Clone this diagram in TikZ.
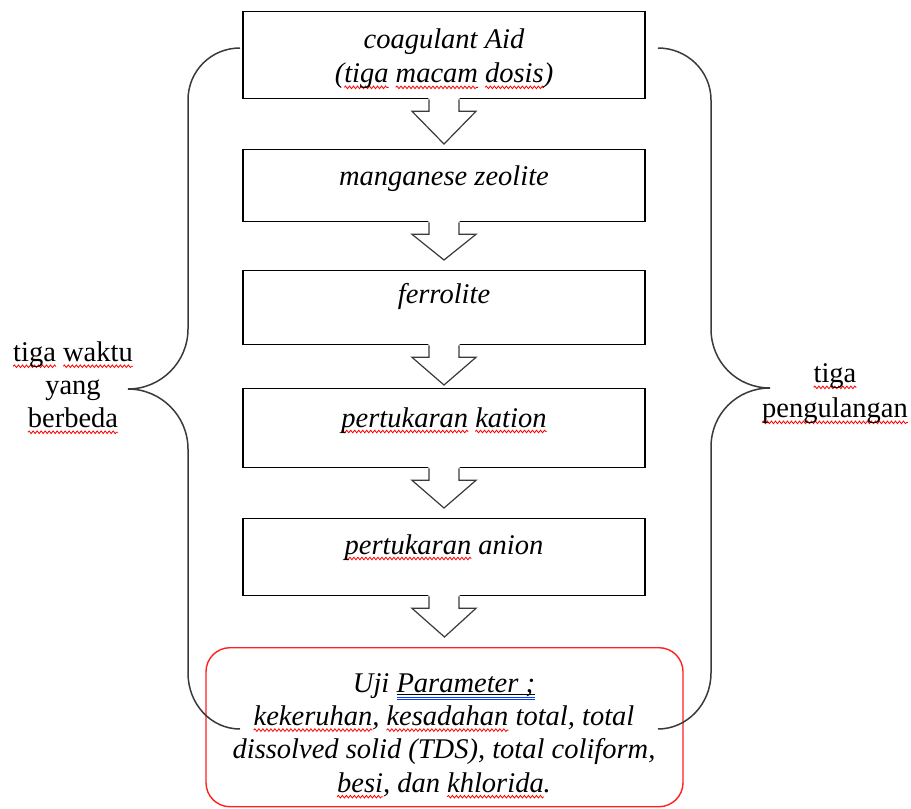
\documentclass[tikz,border=0pt]{standalone}
\usepackage{fontspec}
\setmainfont{Liberation Serif}
\usetikzlibrary{calc,decorations.pathmorphing}
\newsavebox\sqbox
\newcommand\sq[1]{\sbox\sqbox{#1}\rlap{\tikz[baseline=0pt,overlay]\draw[red, line width=0.8pt, decorate, decoration={snake, amplitude=1.3pt, segment length=4pt}] (0pt,-4.5pt) -- (\wd\sqbox,-4.5pt);}\usebox\sqbox}
\newcommand\blueul[1]{\sbox\sqbox{#1}\rlap{\rule[-2.5pt]{\wd\sqbox}{0.7pt}}\rlap{\textcolor{blue!75!cyan}{\rule[-5pt]{\wd\sqbox}{0.6pt}}}\rlap{\textcolor{blue!75!cyan}{\rule[-7.5pt]{\wd\sqbox}{0.6pt}}}\usebox\sqbox}
\definecolor{arrgray}{HTML}{3A3A3A}
\definecolor{boxred}{HTML}{FF2020}
\tikzset{
  stepbox/.style={draw=black, line width=1.3pt, minimum width=402pt, inner sep=0pt, anchor=north},
  redbox/.style={draw=boxred, line width=1.4pt, rounded corners=24pt, minimum width=477pt, minimum height=159pt, inner sep=0pt, anchor=north},
  lbl/.style={font=\fontsize{28.5}{34}\selectfont\itshape, inner sep=0pt},
  side/.style={font=\fontsize{28.5}{33}\selectfont, inner sep=0pt, align=center},
  blockarr/.style={draw=arrgray, line width=1.2pt, line join=miter},
  bracestyle/.style={draw=arrgray, line width=1.5pt},
}
\newcommand\blockarrow[3]{%
  \fill[white] ($(#1.south)+(-15.6,-2)$) -- ($(#1.south)+(-15,12)$) -- ($(#1.south)+(-32,12)$) -- ($(#2.north)+(0,-#3)$) -- ($(#1.south)+(32,12)$) -- ($(#1.south)+(15,12)$) -- ($(#1.south)+(15.6,-2)$) -- cycle;
  \draw[blockarr] ($(#1.south)+(-15,0)$) -- ($(#1.south)+(-15,12)$) -- ($(#1.south)+(-32,12)$) -- ($(#2.north)+(0,-#3)$) -- ($(#1.south)+(32,12)$) -- ($(#1.south)+(15,12)$) -- ($(#1.south)+(15,0)$);
}
\begin{document}
\begin{tikzpicture}[x=1pt, y=-1pt]
\useasboundingbox (0,0) rectangle (911,809);
% boxes
\node[stepbox, minimum height=87pt] (b1) at (444,11) {};
\node[stepbox, minimum height=72pt] (b2) at (444,149) {};
\node[stepbox, minimum height=74pt] (b3) at (444,270) {};
\node[stepbox, minimum height=79pt] (b4) at (444,388) {};
\node[stepbox, minimum height=77pt] (b5) at (444,518) {};
\node[redbox] (r) at (444.5,647) {};
% block arrows
\blockarrow{b1}{b2}{5}
\blockarrow{b2}{b3}{10}
\blockarrow{b3}{b4}{3}
\blockarrow{b4}{b5}{10}
\blockarrow{b5}{r}{10}
% box texts
\node[lbl, align=center] (t1) at (444,59) {coagulant Aid\\(\sq{tiga} \sq{macam} \sq{dosis})};
\node[lbl, anchor=base] (t2) at (444,185) {manganese zeolite};
\node[lbl, anchor=base] (t3) at (444,303) {ferrolite};
\node[lbl, anchor=base] (t4) at (444,427) {\sq{pertukaran} \sq{kation}};
\node[lbl, anchor=base] (t5) at (444,554) {\sq{pertukaran} anion};
\node[lbl, align=center, font=\fontsize{28.5}{33.3}\selectfont\itshape] (t6) at (444,735) {Uji \blueul{Parameter ;}\\\sq{kekeruhan}, \sq{kesadahan} total, total\\dissolved solid (TDS), total coliform,\\\sq{besi}, dan \sq{khlorida}.};
% side texts
\node[side] (lt) at (73,385) {\sq{tiga} \sq{waktu}\\yang\\\sq{berbeda}};
\node[side, font=\fontsize{28.5}{35}\selectfont] (rt) at (835,394) {\sq{tiga}\\\sq{pengulangan}};
% braces
\coordinate (ltip) at (128,389);
\coordinate (rtip) at (770,388);
\draw[bracestyle] (240,48) .. controls (211,48) and (188,71) .. (188,100) -- (188,329) .. controls (188,362) and (161,389) .. (ltip) .. controls (161,389) and (188,416) .. (188,449) -- (188,673) .. controls (188,704) and (211,729) .. (240,729);
\draw[bracestyle] (658,48) .. controls (687,48) and (711,71) .. (711,100) -- (711,329) .. controls (711,362) and (737,388) .. (rtip) .. controls (737,388) and (711,414) .. (711,447) -- (711,673) .. controls (711,704) and (687,729) .. (658,729);
\end{tikzpicture}
\end{document}
